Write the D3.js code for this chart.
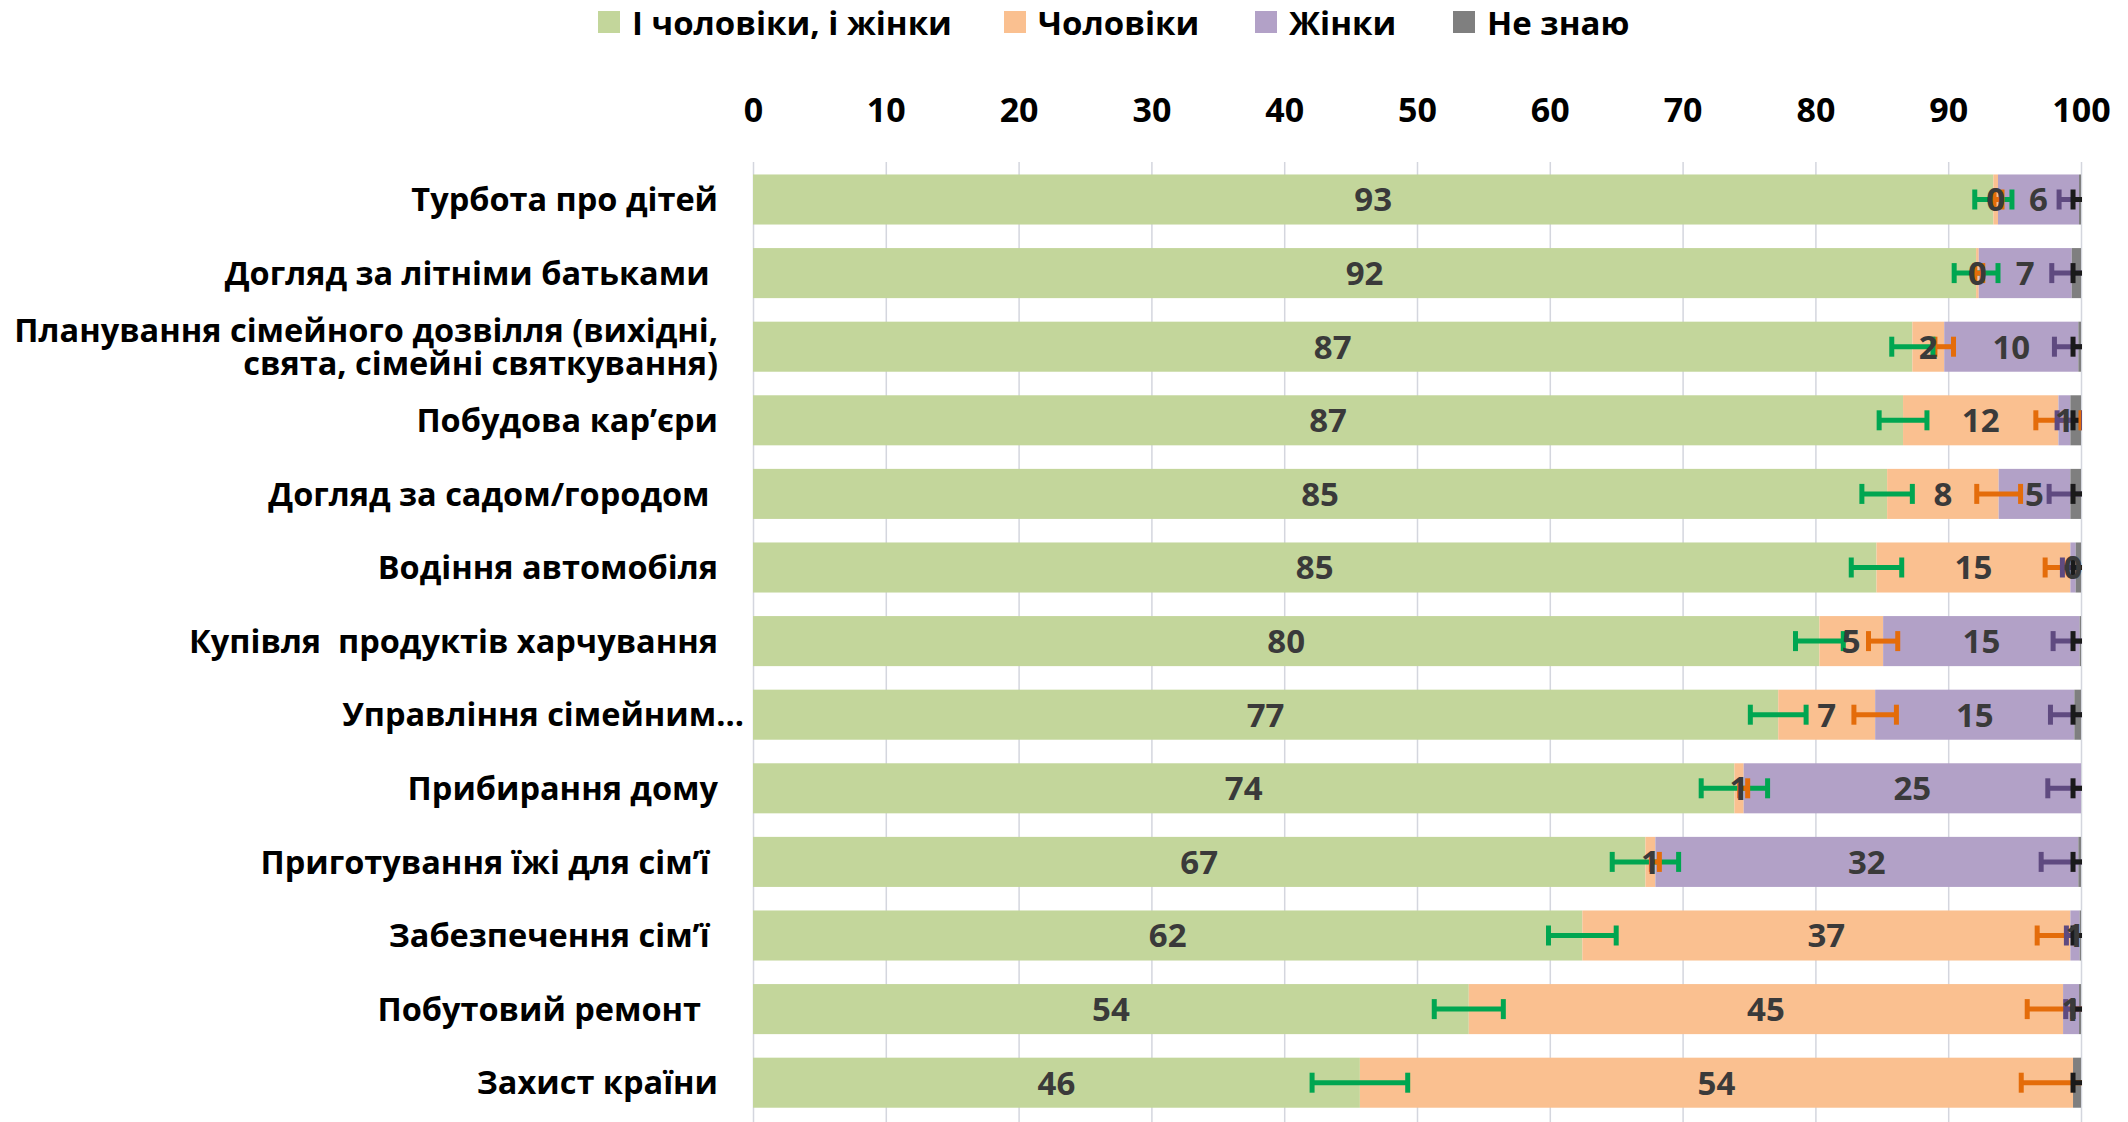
<!DOCTYPE html>
<html><head><meta charset="utf-8">
<script src="https://cdn.jsdelivr.net/npm/d3@7"></script>
<style>body{margin:0;background:#fff}svg{display:block}</style>
</head><body><svg id="c" width="2128" height="1122"></svg>
<script>
const categories = ["Турбота про дітей","Догляд за літніми батьками ","Планування сімейного дозвілля (вихідні,|свята, сімейні святкування)","Побудова кар’єри","Догляд за садом/городом ","Водіння автомобіля","Купівля  продуктів харчування","Управління сімейним...","Прибирання дому","Приготування їжі для сім’ї ","Забезпечення сім’ї ","Побутовий ремонт  ","Захист країни"];
const seriesNames = ["І чоловіки, і жінки","Чоловіки","Жінки","Не знаю"];
const both     = [93.4, 92.1, 87.3, 86.6, 85.4, 84.6, 80.3, 77.2, 73.9, 67.2, 62.45, 53.9, 45.7];
const men      = [0.35, 0.2, 2.4, 11.7, 8.4, 14.6, 4.8, 7.3, 0.7, 0.75, 36.75, 44.75, 53.7];
const women    = [6.1, 7.0, 10.1, 0.9, 5.4, 0.4, 14.8, 15.0, 25.4, 31.85, 0.7, 1.2, 0];
const dontKnow = [0.15, 0.7, 0.2, 0.8, 0.8, 0.4, 0.1, 0.5, 0, 0.2, 0.1, 0.15, 0.6];
const errBoth     = [1.4, 1.65, 1.55, 1.8, 1.9, 1.9, 1.8, 2.1, 2.5, 2.5, 2.55, 2.6, 3.6];
const errMen      = [0.3, 0.3, 0.7, 1.7, 1.65, 1.9, 1.1, 1.6, 0.3, 0.3, 2.5, 2.7, 3.9];
const errWomen    = [1.5, 1.5, 1.8, 1.0, 1.6, 1.0, 2.0, 1.8, 2.5, 2.8, 1.0, 1.0, 0];
const errDontKnow = [0.6, 0.6, 0.6, 0.6, 0.6, 0.6, 0.6, 0.6, 0.6, 0.6, 0.6, 0.6, 0.6];
const tickValues = [0,10,20,30,40,50,60,70,80,90,100];

// styling / layout constants
const barColors = ["#c3d69b","#fac090","#b2a1c7","#7f7f7f"];
const errColors = ["#00a651","#e46c0a","#5f4a80","#1a1a1a"];
const FONT = "'Open Sans','Noto Sans',sans-serif";
const legendX = [598, 1004, 1255, 1453];
const labelRight = 718;

const svg = d3.select("#c");
const x = d3.scaleLinear().domain([0,100]).range([753,2081]);
const y = d3.scaleBand().domain(categories).range([162.7,1119.5]).paddingInner(0.32).paddingOuter(0.16);

// gridlines
svg.append("g").attr("transform","translate(0,162)")
  .call(d3.axisBottom(x).tickValues(tickValues).tickSize(960).tickFormat(""))
  .call(g=>g.select(".domain").remove())
  .call(g=>g.selectAll("line").attr("stroke","#d4d6de").attr("stroke-width",1.5));

// tick labels
svg.append("g").attr("transform","translate(0,110)")
  .call(d3.axisTop(x).tickValues(tickValues).tickSize(0).tickPadding(0))
  .call(g=>g.select(".domain").remove())
  .call(g=>g.selectAll("text").attr("y",0).attr("dy","0.36em")
     .attr("font-family",FONT).attr("font-size",34).attr("font-weight","bold").attr("fill","#000"));

const seriesVals = [both, men, women, dontKnow];
const seriesErr = [errBoth, errMen, errWomen, errDontKnow];
const rows = categories.map((c,i)=>{
  let acc=0; const segs=[];
  seriesVals.forEach((s,k)=>{ segs.push({k, x0:acc, x1:acc+s[i], v:s[i], e:seriesErr[k][i], cat:c}); acc+=s[i]; });
  return segs;
});
const all = rows.flat();

svg.append("defs").append("clipPath").attr("id","plot").append("rect")
  .attr("x",x(0)).attr("y",150).attr("width",x(100)-x(0)+1).attr("height",980);

svg.append("g").selectAll("rect").data(all.filter(d=>d.v>0)).join("rect")
  .attr("x",d=>x(d.x0)).attr("width",d=>x(d.x1)-x(d.x0))
  .attr("y",d=>y(d.cat)).attr("height",y.bandwidth())
  .attr("fill",d=>barColors[d.k]);

// error bars
const eg = svg.append("g").attr("clip-path","url(#plot)");
const errs = all.filter(d=>d.e>0);
const capH = 20, ew = 5;
const cy = d=>y(d.cat)+y.bandwidth()/2;
eg.selectAll("line.h").data(errs).join("line").attr("class","h")
  .attr("x1",d=>x(d.x1-d.e)).attr("x2",d=>x(d.x1+d.e))
  .attr("y1",cy).attr("y2",cy)
  .attr("stroke",d=>errColors[d.k]).attr("stroke-width",ew);
eg.selectAll("line.cl").data(errs).join("line").attr("class","cl")
  .attr("x1",d=>x(d.x1-d.e)).attr("x2",d=>x(d.x1-d.e))
  .attr("y1",d=>cy(d)-capH/2).attr("y2",d=>cy(d)+capH/2)
  .attr("stroke",d=>errColors[d.k]).attr("stroke-width",ew);
eg.selectAll("line.cr").data(errs).join("line").attr("class","cr")
  .attr("x1",d=>x(d.x1+d.e)).attr("x2",d=>x(d.x1+d.e))
  .attr("y1",d=>cy(d)-capH/2).attr("y2",d=>cy(d)+capH/2)
  .attr("stroke",d=>errColors[d.k]).attr("stroke-width",ew);

// data labels
const fmt = d3.format(".0f");
svg.append("g").selectAll("text").data(all.filter(d=>d.k<3 && d.v>0)).join("text")
  .attr("x",d=>x((d.x0+d.x1)/2)).attr("y",cy).attr("dy","0.36em")
  .attr("text-anchor","middle").attr("font-family",FONT).attr("font-size",33).attr("font-weight","bold")
  .attr("fill","#3a3a3a").text(d=>fmt(d.v));

// category labels
const cl = svg.append("g").selectAll("text").data(categories).join("text")
  .attr("y",d=>cy({cat:d}))
  .attr("text-anchor","end").attr("font-family",FONT).attr("font-size",32.5).attr("font-weight","bold")
  .attr("fill","#000").style("white-space","pre");
cl.each(function(d){
  const parts=d.split("|"); const t=d3.select(this);
  const ax = d.endsWith("...") ? labelRight+26 : labelRight;
  parts.forEach((p,j)=>{ t.append("tspan").attr("x",ax)
    .attr("dy", j===0 ? (0.36-(parts.length-1)*0.5)+"em" : "1em").text(p); });
});

// legend
const lg = svg.append("g");
seriesNames.forEach((n,k)=>{
  lg.append("rect").attr("x",legendX[k]).attr("y",11).attr("width",22).attr("height",22).attr("fill",barColors[k]);
  lg.append("text").attr("x",legendX[k]+34).attr("y",23).attr("dy","0.36em")
    .attr("font-family",FONT).attr("font-size",33).attr("font-weight","bold").attr("fill","#000").text(n);
});
</script></body></html>
